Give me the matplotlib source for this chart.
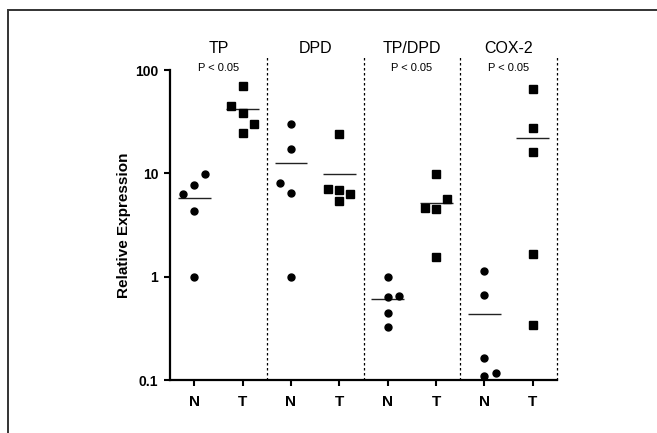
import numpy as np
import matplotlib
matplotlib.use("Agg")
import matplotlib.pyplot as plt
from matplotlib.patches import Rectangle

plt.rcParams["font.family"] = ["Liberation Sans", "DejaVu Sans"]

# groups and labels
groups = ["TP", "DPD", "TP/DPD", "COX-2"]
pvals = ["P < 0.05", "", "P < 0.05", "P < 0.05"]
sub_labels = ["N", "T"]

# relative expression values, normal / tumour per group
tp_n = [6.35, 7.65, 9.85, 4.31, 1.0]
tp_t = [70, 44.8, 38.6, 30, 24.4]
dpd_n = [30, 17.1, 8.1, 6.5, 1.0]
dpd_t = [24, 7.05, 6.9, 6.25, 5.4]
ratio_n = [1.0, 0.63, 0.65, 0.448, 0.328]
ratio_t = [9.8, 5.6, 4.6, 4.5, 1.56]
cox_n = [1.135, 0.665, 0.162, 0.118, 0.110]
cox_t = [65, 27.3, 16, 1.66, 0.34]

# horizontal scatter of overlapping points (in jitter steps)
tp_n_jit = [-1, 0, 1, 0, 0]
tp_t_jit = [0, -1, 0, 1, 0]
dpd_n_jit = [0, 0, -1, 0, 0]
dpd_t_jit = [0, -1, 0, 1, 0]
ratio_n_jit = [0, 0, 1, 0, 0]
ratio_t_jit = [0, 1, -1, 0, 0]
cox_n_jit = [0, 0, 0, 1, 0]
cox_t_jit = [0, 0, 0, 0, 0]

series = [(tp_n, tp_n_jit), (tp_t, tp_t_jit),
          (dpd_n, dpd_n_jit), (dpd_t, dpd_t_jit),
          (ratio_n, ratio_n_jit), (ratio_t, ratio_t_jit),
          (cox_n, cox_n_jit), (cox_t, cox_t_jit)]

fig = plt.figure(figsize=(6.57, 4.33), dpi=100)
ax = fig.add_axes([0.2588, 0.1224, 0.8478 - 0.2588, 0.8383 - 0.1224])

# outer frame of the figure panel (only left/top edges visible)
fig.patches.append(Rectangle((8 / 657, -0.5), 2.0, 1.5 - 10 / 433,
                             transform=fig.transFigure, fill=False,
                             edgecolor="#333333", linewidth=1.4))

step = 0.23
for i, (vals, jit) in enumerate(series):
    x = i + step * np.array(jit)
    marker = "o" if i % 2 == 0 else "s"
    ax.plot(x, vals, linestyle="none", marker=marker, color="black",
            markersize=5 if marker == "o" else 5.2, clip_on=False, zorder=3)
    m = np.mean(vals)
    ax.plot([i - 0.34, i + 0.34], [m, m], color="#222222", linewidth=1.0,
            solid_capstyle="butt")

for k in range(len(groups)):
    xd = 2 * k + 1.5
    ax.plot([xd, xd], [0.1, 140], color="black", linestyle=(0, (2, 2)),
            linewidth=0.9, clip_on=False)
    xc = 2 * k + 0.5
    ax.text(xc, 160, groups[k], ha="center", va="center", fontsize=11.5)
    if pvals[k]:
        ax.text(xc, 104, pvals[k], ha="center", va="center", fontsize=8)

ax.set_yscale("log")
ax.set_ylim(0.1, 100)
ax.set_xlim(-0.5, 7.5)
ax.set_yticks([0.1, 1, 10, 100])
ax.set_yticklabels(["0.1", "1", "10", "100"], fontweight="bold", fontsize=10)
ax.yaxis.set_minor_locator(matplotlib.ticker.NullLocator())
ax.set_xticks(range(8))
ax.set_xticklabels(sub_labels * 4, fontweight="bold", fontsize=11)
ax.set_ylabel("Relative Expression", fontweight="bold", fontsize=11, labelpad=3)

for s in ["top", "right"]:
    ax.spines[s].set_visible(False)
for s in ["left", "bottom"]:
    ax.spines[s].set_linewidth(1.6)
ax.tick_params(axis="both", width=1.5, length=4.5, pad=4)
ax.tick_params(axis="x", pad=6)

fig.savefig("out.png", dpi=100)
